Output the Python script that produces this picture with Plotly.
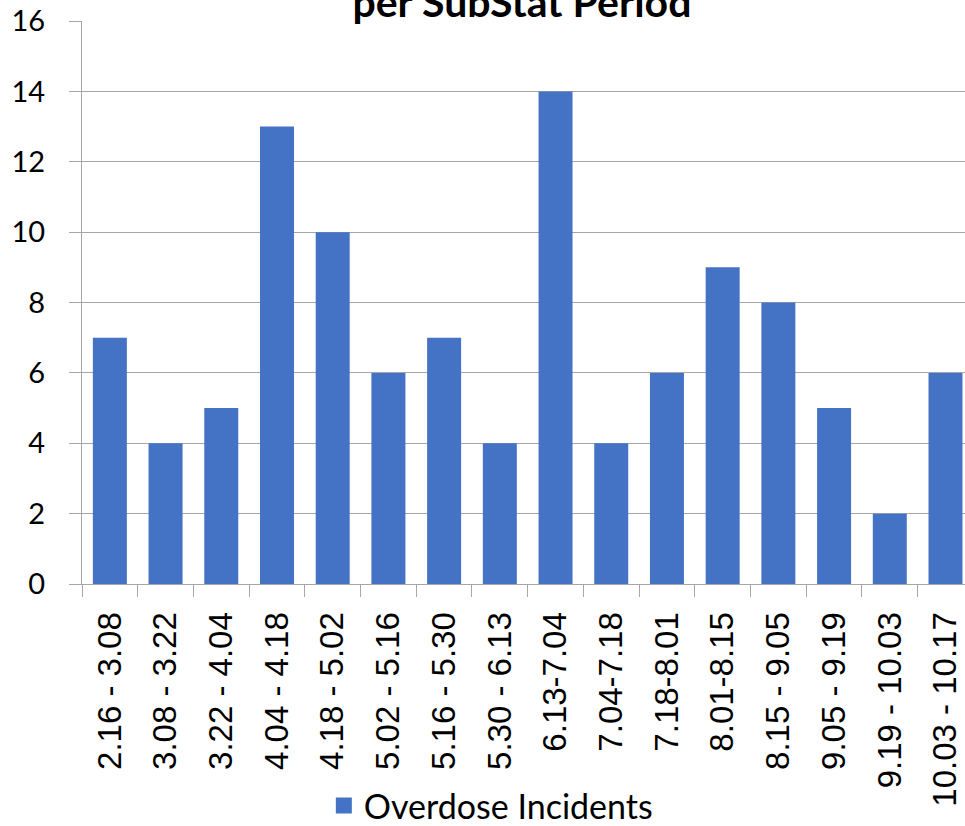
"""
Overdose incidents per SubStat period, bar chart.
"""
import plotly.graph_objects as go

periods = [
    "2.16 - 3.08", "3.08 - 3.22", "3.22 - 4.04", "4.04 - 4.18",
    "4.18 - 5.02", "5.02 - 5.16", "5.16 - 5.30", "5.30 - 6.13",
    "6.13-7.04", "7.04-7.18", "7.18-8.01", "8.01-8.15",
    "8.15 - 9.05", "9.05 - 9.19", "9.19 - 10.03", "10.03 - 10.17",
]
incidents = [7, 4, 5, 13, 10, 6, 7, 4, 14, 4, 6, 9, 8, 5, 2, 6]

BAR_COLOR = '#4472C4'
GRID = '#A6A6A6'

fig = go.Figure()

fig.add_trace(go.Bar(
    x=periods,
    y=incidents,
    name="Overdose Incidents",
    marker=dict(color=BAR_COLOR, line=dict(width=0)),
    showlegend=False
))

# legend entry with a bigger square swatch
fig.add_trace(go.Scatter(
    x=[None], y=[None],
    mode='markers',
    name="Overdose Incidents",
    marker=dict(symbol='square', size=22, color=BAR_COLOR)
))

fig.update_layout(
    width=965,
    height=826,
    plot_bgcolor='white',
    paper_bgcolor='white',
    font=dict(family='Lato', size=28, color='black'),
    margin=dict(l=82, r=0, t=21, b=242, autoexpand=False),
    bargap=0.39,
    showlegend=True,
    legend=dict(
        orientation='h',
        x=0.463, xanchor='center',
        y=-0.394, yanchor='middle',
        font=dict(family='Lato', size=34),
        itemwidth=30
    ),
    xaxis=dict(
        type='category',
        range=[-0.5, 15.35],
        automargin=False,
        tickson='boundaries',
        ticks='outside',
        ticklen=12,
        tickcolor=GRID,
        showline=True,
        linecolor=GRID,
        showgrid=False,
        tickangle=-90,
        ticklabelstandoff=14,
        tickfont=dict(family='Liberation Sans, Arial', size=33, color='black')
    ),
    yaxis=dict(
        range=[0, 16],
        dtick=2,
        automargin=False,
        showgrid=True,
        gridcolor=GRID,
        showline=True,
        linecolor=GRID,
        ticks='outside',
        ticklen=12,
        tickcolor=GRID,
        zeroline=False,
        ticklabelstandoff=18,
        tickfont=dict(family='Lato', size=29, color='black')
    ),
    annotations=[dict(
        text="<b>Overdose Incidents</b><br><b>per SubStat Period</b>",
        xref='paper', yref='paper',
        x=0.498, y=1.0,
        xanchor='center', yanchor='bottom',
        yshift=-7,
        showarrow=False,
        font=dict(family='Lato', size=41, color='black')
    )]
)

fig.write_html(
    "out.html",
    config={'displayModeBar': False},
    post_script="document.body.style.margin='0';"
)
